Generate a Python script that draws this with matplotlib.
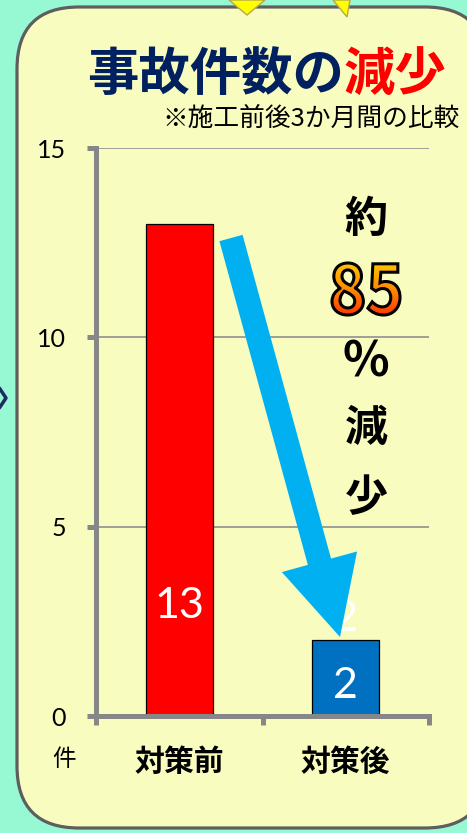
import numpy as np
import matplotlib.pyplot as plt
from matplotlib import patches, transforms
from matplotlib.textpath import TextPath
from matplotlib.font_manager import FontProperties
from matplotlib.colors import LinearSegmentedColormap

plt.rcParams['font.family'] = ['Noto Sans CJK JP', 'DejaVu Sans']

# data
categories = ['対策前', '対策後']
accidents = [13, 2]
bar_colors = ['#FF0000', '#0070C0']
yticks = [0, 5, 10, 15]
label_y = [2.9, 0.8]       # where the value labels sit inside bars
ghost_label = 2             # leftover label above the second bar

W, H = 467, 833
fig = plt.figure(figsize=(W / 100, H / 100), dpi=100)
fig.patch.set_facecolor('#97F9D4')

# background layer in pixel coords (y down)
bg = fig.add_axes([0, 0, 1, 1], zorder=0)
bg.set_xlim(0, W)
bg.set_ylim(H, 0)
bg.axis('off')

panel = patches.FancyBboxPatch((17, 7), 470, 821,
                               boxstyle='round,pad=0,rounding_size=62',
                               fc='#F9FCBF', ec='#5E5E5E', lw=2.3)
bg.add_patch(panel)
bg.add_patch(patches.Polygon([(229, 0), (265, 0), (247, 15)], closed=True,
                             fc='#FFFF00', ec='#B8A848', lw=1))
bg.add_patch(patches.Polygon([(333, 0), (350, 0), (347, 17)], closed=True,
                             fc='#FFFF00', ec='#B8A848', lw=1))
bg.plot([0, 6, 0], [389, 398, 407], color='#1F2A60', lw=2.5)

# chart
ax = fig.add_axes([96 / W, 1 - 716 / H, (429 - 96) / W, (716 - 148) / H], zorder=1)
ax.set_facecolor('none')
x = np.arange(len(categories))
ax.bar(x, accidents, width=0.4, color=bar_colors, edgecolor='black', linewidth=0.9, zorder=2)
ax.set_xlim(-0.5, 1.5)
ax.set_ylim(0, 15)
ax.set_yticks(yticks)
ax.yaxis.grid(True, color='#8F8F8F', lw=1.2)
ax.set_axisbelow(True)
for s in ['top', 'right']:
    ax.spines[s].set_visible(False)
for s in ['left', 'bottom']:
    ax.spines[s].set_color('#878787')
    ax.spines[s].set_linewidth(3.6)
ax.tick_params(axis='y', direction='out', length=6.5, width=3.6, color='#878787',
               pad=15, labelsize=18)
for lab in ax.get_yticklabels():
    lab.set_fontfamily('Lato')
ax.set_xticks([-0.5, 0.5, 1.5])
ax.set_xticklabels([])
ax.set_xticks(x, minor=True)
ax.set_xticklabels(categories, minor=True, fontsize=21.5, fontweight='bold')
ax.tick_params(axis='x', which='major', direction='out', length=6.5, width=3.6, color='#878787')
ax.tick_params(axis='x', which='minor', length=0, pad=22)

for i, v in enumerate(accidents):
    ax.text(x[i], label_y[i], str(v), color='white', ha='center', va='center',
            fontsize=31, family='Lato', zorder=3)
ax.text(x[1], 2.55, str(ghost_label), color='white', ha='center', va='center',
        fontsize=31, family='Lato', zorder=3)

# foreground layer (y down)
fg = fig.add_axes([0, 0, 1, 1], zorder=2)
fg.set_xlim(0, W)
fg.set_ylim(H, 0)
fg.axis('off')
fg.patch.set_alpha(0)

fg.text(344, 74, '事故件数の', color='#002060', fontsize=37, fontweight='bold',
        ha='right', va='center')
fg.text(344, 74, '減少', color='#FF0000', fontsize=37, fontweight='bold',
        ha='left', va='center')
fg.text(460, 119, '※施工前後3か月間の比較', color='black', fontsize=18.5,
        ha='right', va='center')
fg.text(64, 759, '件', color='black', fontsize=17, ha='center', va='center')

arrow = patches.FancyArrow(231, 238, 340 - 231, 637 - 238, width=24,
                           head_width=78, head_length=78, length_includes_head=True,
                           color='#00B0F0', lw=0, zorder=3)
fg.add_patch(arrow)

for txt, yc, fs in [('約', 219, 31), ('%', 362, 35), ('減', 428, 31), ('少', 498, 31)]:
    fg.text(366, yc, txt, color='black', fontsize=fs, fontweight='bold',
            ha='center', va='center')

# gradient "85"
tp = TextPath((0, 0), '85', size=72, prop=FontProperties(family='Noto Sans CJK JP', weight='bold'))
ext = tp.get_extents()
sx = 68.0 / ext.width
sy = 52.0 / ext.height
tr = (transforms.Affine2D().translate(-(ext.x0 + ext.x1) / 2, -(ext.y0 + ext.y1) / 2)
      .scale(sx, -sy).translate(366, 289))
path85 = tr.transform_path(tp)
e2 = path85.get_extents()
cmap = LinearSegmentedColormap.from_list('o', ['#FFC400', '#FF8A00', '#FF3A00'])
grad = np.linspace(0, 1, 100).reshape(-1, 1)
im = fg.imshow(grad, cmap=cmap, extent=(e2.x0, e2.x1, e2.y1, e2.y0), origin='upper',
               aspect='auto', zorder=4)
clip = patches.PathPatch(path85, fc='none', ec='none', transform=fg.transData)
im.set_clip_path(clip)
outline = patches.PathPatch(path85, fc='none', ec='black', lw=2.2, zorder=5)
fg.add_patch(outline)
fg.set_xlim(0, W)
fg.set_ylim(H, 0)

fig.savefig('out.png', dpi=100, facecolor=fig.get_facecolor())
